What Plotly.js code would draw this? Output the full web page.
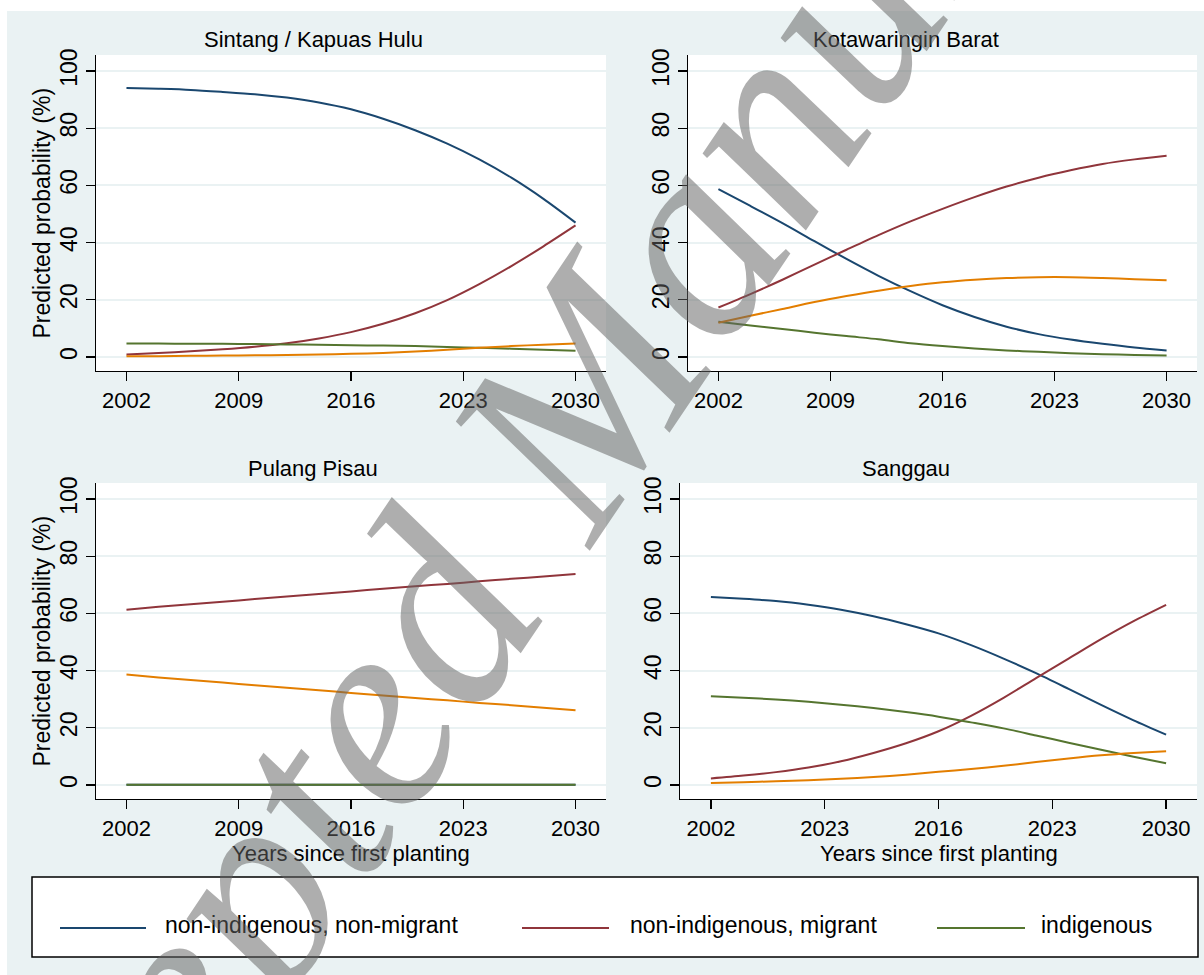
<!DOCTYPE html>
<html>
<head>
<meta charset="utf-8">
<script src="https://cdn.plot.ly/plotly-3.0.1.min.js"></script>
<style>
html,body{margin:0;padding:0;background:#ffffff;}
#chart{width:1204px;height:975px;}
</style>
</head>
<body>
<div id="chart"></div>
<script>
// ---------------- DATA ----------------
const years = [2002,2004,2006,2008,2010,2012,2014,2016,2018,2020,2022,2024,2026,2028,2030];

const seriesNames = ['non-indigenous, non-migrant','non-indigenous, migrant','indigenous','(other)'];
const panelTitles = ['Sintang / Kapuas Hulu','Kotawaringin Barat','Pulang Pisau','Sanggau'];

const xTickVals = [2002,2009,2016,2023,2030];
const xTickTextStd = ['2002','2009','2016','2023','2030'];
const xTickTextSanggau = ['2002','2023','2016','2023','2030'];
const yTickVals = [0,20,40,60,80,100];
const yTickText = ['0','20','40','60','80','100'];

const yAxisTitle = 'Predicted probability (%)';
const xAxisTitle = 'Years since first planting';
const watermarkText = 'Accepted Manuscript';

// Sintang / Kapuas Hulu
const sintangNonMigrant = [94.1,93.8,93.4,92.7,91.9,90.7,89.0,86.6,83.3,79.3,74.6,69.1,62.7,55.3,47.0];
const sintangMigrant    = [0.9,1.4,2.0,2.7,3.6,4.8,6.5,8.7,11.6,15.3,19.9,25.5,31.8,38.7,46.0];
const sintangIndigenous = [4.7,4.7,4.6,4.6,4.5,4.4,4.3,4.1,4.0,3.8,3.5,3.2,2.9,2.5,2.2];
const sintangOther      = [0.3,0.3,0.4,0.5,0.6,0.7,0.9,1.1,1.4,1.9,2.5,3.2,3.8,4.3,4.7];

// Kotawaringin Barat
const kotaNonMigrant = [58.7,52.8,46.8,40.5,34.3,28.4,23.0,18.1,14.0,10.6,8.0,6.1,4.6,3.3,2.3];
const kotaMigrant    = [17.3,22.0,27.0,32.3,37.5,42.6,47.4,51.8,55.9,59.6,62.7,65.3,67.5,69.1,70.4];
const kotaIndigenous = [12.3,11.0,9.8,8.5,7.3,6.2,4.8,3.8,3.0,2.3,1.8,1.3,1.0,0.7,0.5];
const kotaOther      = [12.0,14.4,16.8,19.2,21.3,23.2,24.8,26.1,27.0,27.6,27.9,27.9,27.6,27.2,26.8];

// Pulang Pisau
const pulangNonMigrant = [0.1,0.1,0.1,0.1,0.1,0.1,0.1,0.1,0.1,0.1,0.1,0.1,0.1,0.1,0.1];
const pulangMigrant    = [61.3,62.3,63.2,64.1,65.0,65.9,66.8,67.7,68.6,69.5,70.3,71.2,72.1,72.9,73.8];
const pulangIndigenous = [0.1,0.1,0.1,0.1,0.1,0.1,0.1,0.1,0.1,0.1,0.1,0.1,0.1,0.1,0.1];
const pulangOther      = [38.6,37.6,36.7,35.8,34.9,34.0,33.1,32.2,31.3,30.4,29.6,28.7,27.9,27.0,26.1];

// Sanggau
const sanggauNonMigrant = [65.7,65.1,64.3,63.0,61.3,59.0,56.2,53.0,48.9,44.2,39.1,33.6,28.0,22.6,17.6];
const sanggauMigrant    = [2.3,3.3,4.5,6.1,8.3,11.2,14.6,18.8,24.2,30.5,37.4,44.2,51.0,57.3,63.0];
const sanggauIndigenous = [31.0,30.5,29.9,29.1,28.1,26.9,25.5,23.9,21.9,19.8,17.3,14.8,12.3,9.9,7.6];
const sanggauOther      = [0.7,1.0,1.3,1.7,2.2,2.8,3.6,4.6,5.6,6.7,8.0,9.3,10.4,11.2,11.8];

// ---------------- STYLE ----------------
const colors = ['#1A476F','#90353B','#55752F','#E37E00'];
const BG = '#EAF2F3';
const FONT = 'Liberation Sans, Arial, Helvetica, sans-serif';
const W = 1204, H = 975;
const px = v => v / W;
const py = v => 1 - v / H;

const panels = [
  {series:[sintangNonMigrant,sintangMigrant,sintangIndigenous,sintangOther], xt:xTickTextStd,
   box:[96,606,55,371], titleX:313, titleY:40, yTitle:true, xTitle:false},
  {series:[kotaNonMigrant,kotaMigrant,kotaIndigenous,kotaOther], xt:xTickTextStd,
   box:[688,1197,55,371], titleX:905.6, titleY:40, yTitle:false, xTitle:false},
  {series:[pulangNonMigrant,pulangMigrant,pulangIndigenous,pulangOther], xt:xTickTextStd,
   box:[96,606,483,799], titleX:313, titleY:468, yTitle:true, xTitle:true},
  {series:[sanggauNonMigrant,sanggauMigrant,sanggauIndigenous,sanggauOther], xt:xTickTextSanggau,
   box:[680,1197,483,799], titleX:905.5, titleY:468, yTitle:false, xTitle:true}
];

const traces = [];
const layout = {
  width: W, height: H,
  margin: {l:0, r:0, t:0, b:0},
  paper_bgcolor: BG,
  plot_bgcolor: '#ffffff',
  showlegend: false,
  font: {family: FONT, color: '#000'},
  shapes: [],
  annotations: []
};

panels.forEach((p, i) => {
  const n = i === 0 ? '' : String(i + 1);
  const [x0, x1, y0, y1] = p.box;
  p.series.forEach((s, k) => {
    traces.push({
      x: years, y: s, type: 'scatter', mode: 'lines',
      name: seriesNames[k],
      xaxis: 'x' + n, yaxis: 'y' + n,
      line: {color: colors[k], width: 2, shape: 'spline', smoothing: 0.8},
      hoverinfo: 'skip'
    });
  });
  layout['xaxis' + n] = {
    domain: [px(x0), px(x1)], anchor: 'y' + n,
    range: [2000.1, 2031.9],
    tickmode: 'array', tickvals: xTickVals, ticktext: p.xt,
    ticks: 'outside', ticklen: 9, tickwidth: 1.3, tickcolor: '#000',
    showline: true, linecolor: '#000', linewidth: 1.3,
    showgrid: false, zeroline: false,
    tickfont: {family: FONT, size: 22, color: '#000'},
    fixedrange: true
  };
  layout['yaxis' + n] = {
    domain: [py(y1), py(y0)], anchor: 'x' + n,
    range: [-4.9, 105.6],
    tickmode: 'array', tickvals: yTickVals, ticktext: yTickText,
    tickangle: -90,
    ticks: 'outside', ticklen: 9, tickwidth: 1.3, tickcolor: '#000',
    showline: true, linecolor: '#000', linewidth: 1.3,
    showgrid: true, gridcolor: BG, gridwidth: 2, zeroline: false,
    tickfont: {family: FONT, size: 23, color: '#000'},
    fixedrange: true
  };
  layout.annotations.push({
    text: panelTitles[i], xref: 'paper', yref: 'paper',
    x: px(p.titleX), y: py(p.titleY), xanchor: 'center', yanchor: 'middle',
    showarrow: false, font: {family: FONT, size: 22, color: '#000'}
  });
  if (p.yTitle) {
    layout.annotations.push({
      text: yAxisTitle, xref: 'paper', yref: 'paper',
      x: px(41.5), y: py((y0 + y1) / 2), xanchor: 'center', yanchor: 'middle',
      textangle: -90, showarrow: false, font: {family: FONT, size: 23, color: '#000'}
    });
  }
  if (p.xTitle) {
    layout.annotations.push({
      text: xAxisTitle, xref: 'paper', yref: 'paper',
      x: px((x0 + x1) / 2), y: py(853), xanchor: 'center', yanchor: 'middle',
      showarrow: false, font: {family: FONT, size: 22, color: '#000'}
    });
  }
});

// white margins outside the graph region
layout.shapes.push({type:'rect', xref:'paper', yref:'paper', x0:0, x1:1, y0:py(11), y1:1,
  fillcolor:'#ffffff', line:{width:0}, layer:'below'});
layout.shapes.push({type:'rect', xref:'paper', yref:'paper', x0:0, x1:px(7), y0:0, y1:1,
  fillcolor:'#ffffff', line:{width:0}, layer:'below'});

// legend box
layout.shapes.push({type:'rect', xref:'paper', yref:'paper', x0:px(32), x1:px(1198), y0:py(957), y1:py(877),
  fillcolor:'#ffffff', line:{color:'#000', width:1.5}, layer:'below'});
const legendLineX = [[60,146],[522,609],[937,1025]];
const legendTextX = [163, 628, 1039];
for (let k = 0; k < 3; k++) {
  layout.shapes.push({type:'line', xref:'paper', yref:'paper',
    x0:px(legendLineX[k][0]), x1:px(legendLineX[k][1]), y0:py(928), y1:py(928),
    line:{color:colors[k], width:2}});
  layout.annotations.push({
    text: seriesNames[k], xref:'paper', yref:'paper',
    x: px(legendTextX[k]), y: py(925), xanchor:'left', yanchor:'middle',
    showarrow:false, font:{family:FONT, size:23, color:'#000'}
  });
}

// watermark
layout.annotations.push({
  text: '<i>' + watermarkText + '</i>', xref:'paper', yref:'paper',
  x: px(566), y: py(418), xanchor:'center', yanchor:'middle',
  textangle: -56, showarrow:false,
  font:{family:'Liberation Serif, Times New Roman, serif', size:280, color:'rgba(100,100,100,0.52)'}
});

Plotly.newPlot('chart', traces, layout, {displayModeBar:false, staticPlot:true});
</script>
</body>
</html>
